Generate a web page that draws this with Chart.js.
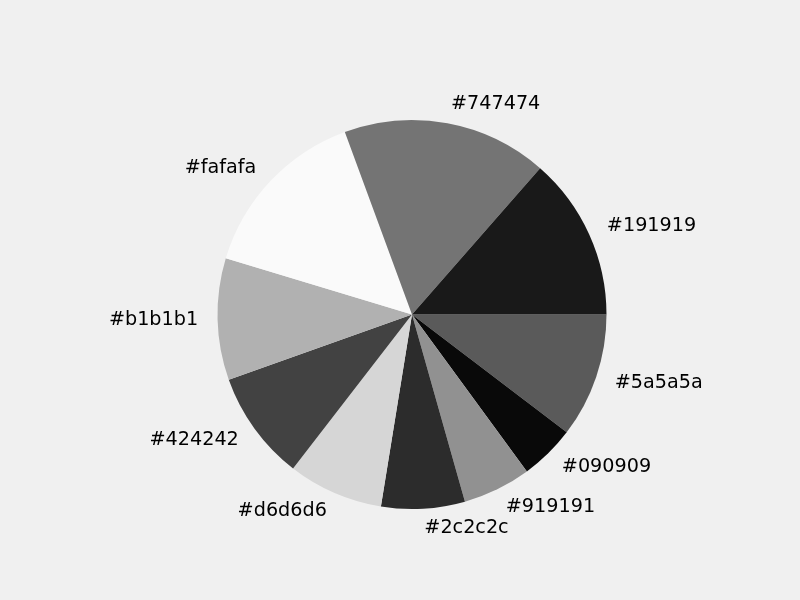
<!DOCTYPE html>
<html>
<head>
<meta charset="utf-8">
<script src="https://cdn.jsdelivr.net/npm/chart.js@4"></script>
<style>
html,body{margin:0;padding:0;background:#f0f0f0;}
#wrap{width:800px;height:600px;}
</style>
</head>
<body>
<div id="wrap"><canvas id="c" width="800" height="600"></canvas></div>
<script>
// Slices in matplotlib order (counterclockwise from 3 o'clock)
const labels = ["#191919","#747474","#fafafa","#b1b1b1","#424242","#d6d6d6","#2c2c2c","#919191","#090909","#5a5a5a"];
const values = [48.8, 61.4, 53.0, 36.4, 32.7, 28.5, 25.0, 20.4, 16.5, 37.3];
const colors = ["#191919","#747474","#fafafa","#b1b1b1","#424242","#d6d6d6","#2c2c2c","#919191","#090909","#5a5a5a"];

// Chart.js draws clockwise, so reverse order to emulate counterclockwise
const rLabels = labels.slice().reverse();
const rValues = values.slice().reverse();
const rColors = colors.slice().reverse();

const labelPlugin = {
  id: 'outerLabels',
  afterDatasetsDraw(chart) {
    const ctx = chart.ctx;
    const meta = chart.getDatasetMeta(0);
    ctx.save();
    ctx.font = '19.2px "DejaVu Sans"';
    ctx.fillStyle = '#000000';
    ctx.textBaseline = 'middle';
    meta.data.forEach((arc, i) => {
      const a = (arc.startAngle + arc.endAngle) / 2;
      const R = arc.outerRadius * 1.1;
      const x = arc.x + R * Math.cos(a);
      const y = arc.y + R * Math.sin(a);
      ctx.textAlign = Math.cos(a) > 0 ? 'left' : 'right';
      ctx.fillText(rLabels[i], x, y);
    });
    ctx.restore();
  }
};

new Chart(document.getElementById('c'), {
  type: 'pie',
  data: {
    labels: rLabels,
    datasets: [{
      data: rValues,
      backgroundColor: rColors,
      borderWidth: 0,
      hoverOffset: 0
    }]
  },
  options: {
    responsive: false,
    animation: false,
    rotation: 90,
    layout: { padding: { left: 217, right: 193, top: 120, bottom: 91 } },
    plugins: {
      legend: { display: false },
      tooltip: { enabled: false },
      title: { display: false }
    }
  },
  plugins: [labelPlugin]
});
</script>
</body>
</html>
